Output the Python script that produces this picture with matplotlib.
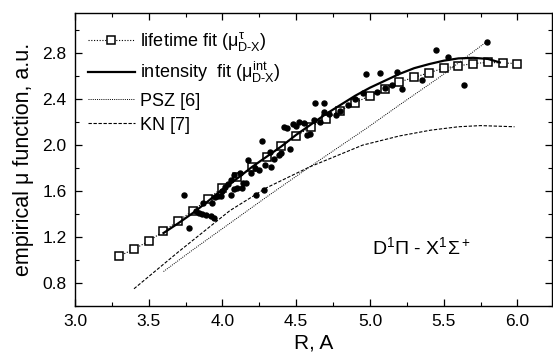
import numpy as np
import matplotlib as mpl
import matplotlib.pyplot as plt
from matplotlib.ticker import MultipleLocator

# lifetime fit (open squares)
LIFE_R = [3.3, 3.4, 3.5, 3.6, 3.7, 3.8, 3.9, 4.0, 4.1, 4.2, 4.3, 4.4, 4.5, 4.6,
          4.7, 4.8, 4.9, 5.0, 5.1, 5.2, 5.3, 5.4, 5.5, 5.6, 5.7, 5.8, 5.9, 6.0]
LIFE_MU = [1.035, 1.095, 1.165, 1.25, 1.34, 1.43, 1.53, 1.63, 1.72, 1.81, 1.90,
           1.99, 2.08, 2.16, 2.23, 2.30, 2.37, 2.43, 2.49, 2.55, 2.59, 2.63,
           2.67, 2.69, 2.71, 2.72, 2.715, 2.71]

# intensity fit (solid curve)
INT_R = [3.60, 3.70, 3.80, 3.90, 4.00, 4.10, 4.20, 4.30, 4.40, 4.50, 4.60, 4.70,
         4.80, 4.90, 5.00, 5.10, 5.20, 5.30, 5.40, 5.50, 5.60, 5.70, 5.80, 5.88]
INT_MU = [1.235, 1.32, 1.41, 1.51, 1.615, 1.71, 1.81, 1.90, 1.99, 2.09, 2.18,
          2.27, 2.35, 2.43, 2.50, 2.56, 2.62, 2.67, 2.705, 2.735, 2.755, 2.76,
          2.75, 2.72]

# intensity data points
DOT_R = [3.74, 3.77, 3.82, 3.84, 3.86, 3.87, 3.89, 3.92, 3.94, 3.93, 3.95, 3.97,
         3.99, 4.00, 4.02, 4.04, 4.06, 4.06, 4.08, 4.08, 4.10, 4.12, 4.13, 4.14,
         4.16, 4.17, 4.19, 4.23, 4.28, 4.22, 4.25, 4.27, 4.29, 4.32, 4.33, 4.35,
         4.38, 4.40, 4.42, 4.44, 4.46, 4.48, 4.50, 4.52, 4.55, 4.57, 4.59, 4.62,
         4.63, 4.66, 4.69, 4.69, 4.72, 4.77, 4.80, 4.85, 4.90, 4.95, 4.97, 5.05,
         5.07, 5.10, 5.15, 5.18, 5.22, 5.35, 5.45, 5.53, 5.64, 5.79]
DOT_MU = [1.57, 1.28, 1.43, 1.41, 1.40, 1.50, 1.39, 1.38, 1.37, 1.50, 1.55, 1.56,
          1.56, 1.60, 1.64, 1.66, 1.57, 1.70, 1.62, 1.74, 1.63, 1.76, 1.63, 1.67,
          1.67, 1.87, 1.76, 1.57, 1.61, 1.80, 1.78, 2.04, 1.83, 1.94, 1.81, 1.88,
          1.91, 1.93, 2.16, 2.15, 1.97, 2.18, 2.17, 2.20, 2.19, 2.09, 2.10, 2.22,
          2.37, 2.20, 2.37, 2.29, 2.27, 2.26, 2.30, 2.35, 2.40, 2.45, 2.62, 2.46,
          2.63, 2.50, 2.52, 2.64, 2.49, 2.57, 2.83, 2.77, 2.52, 2.90]

# PSZ [6]
PSZ_R = [3.60, 3.80, 4.05, 4.30, 4.59, 4.98, 5.20, 5.47, 5.79]
PSZ_MU = [0.90, 1.09, 1.32, 1.55, 1.81, 2.15, 2.35, 2.59, 2.90]

# KN [7]
KN_R = [3.40, 3.70, 4.05, 4.30, 4.59, 4.95, 5.20, 5.41, 5.60, 5.75, 5.98]
KN_MU = [0.75, 1.07, 1.43, 1.63, 1.81, 2.00, 2.08, 2.13, 2.16, 2.17, 2.16]


mpl.rcParams.update({
    "font.family": ["Liberation Sans", "DejaVu Sans"],
    "mathtext.fontset": "custom",
    "mathtext.rm": "Liberation Sans",
    "mathtext.it": "Liberation Sans",
    "mathtext.bf": "Liberation Sans:bold",
    "xtick.direction": "in",
    "ytick.direction": "in",
    "xtick.top": True,
    "ytick.right": True,
})

fig = plt.figure(figsize=(5.53, 3.60), dpi=100)
ax = fig.add_axes([75 / 553, 54 / 360, 477 / 553, 293 / 360])

ax.plot(LIFE_R, LIFE_MU, color="black", linestyle=(0, (1, 1.5)), linewidth=0.8,
        marker="s", markersize=5.5, markerfacecolor="white",
        markeredgecolor="black", markeredgewidth=1.1,
        label=r"lifetime fit ($\mu^{\tau}_{\rm D\text{-}X}$)")
ax.plot(INT_R, INT_MU, color="black", linewidth=1.6,
        label=r"intensity  fit ($\mu^{\rm int}_{\rm D\text{-}X}$)")
ax.plot(PSZ_R, PSZ_MU, color="black", linestyle=(0, (1, 1.2)), linewidth=0.7,
        label="PSZ [6]")
ax.plot(KN_R, KN_MU, color="black", linestyle=(0, (3, 1.5)), linewidth=0.8,
        label="KN [7]")
ax.plot(DOT_R, DOT_MU, linestyle="none", marker="o", markersize=3.6,
        color="black")

ax.set_xlim(3.0, 6.234)
ax.set_ylim(0.6, 3.15)
ax.xaxis.set_major_locator(MultipleLocator(0.5))
ax.xaxis.set_minor_locator(MultipleLocator(0.25))
ax.yaxis.set_major_locator(MultipleLocator(0.4))
ax.yaxis.set_minor_locator(MultipleLocator(0.2))
ax.set_yticks(np.arange(0.8, 2.81, 0.4))
ax.tick_params(which="major", length=5, width=0.9, labelsize=12.5, pad=6)
ax.tick_params(which="minor", length=3, width=0.8)
for s in ax.spines.values():
    s.set_linewidth(1.0)

ax.set_xlabel("R, A", fontsize=15, labelpad=3)
ax.set_ylabel("empirical \u03bc function, a.u.", fontsize=15.5, labelpad=6)

ax.text(5.35, 1.11, r"D$^1\Pi$ - X$^1\Sigma^+$", fontsize=14,
        ha="center", va="center")

ax.legend(loc="upper left", bbox_to_anchor=(0.0, 0.985), frameon=False,
          fontsize=13, handlelength=2.6, handletextpad=0.3, labelspacing=0.4,
          borderaxespad=0.3)

fig.savefig("out.png", dpi=100)
